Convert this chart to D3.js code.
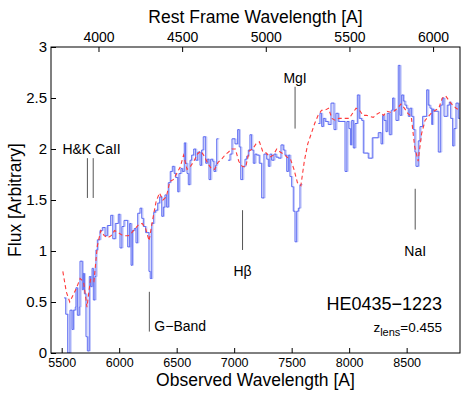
<!DOCTYPE html>
<html>
<head>
<meta charset="utf-8">
<script src="https://cdn.jsdelivr.net/npm/d3@7"></script>
<style>
body { margin: 0; background: #fff; }
svg text { font-family: "Liberation Sans", Arial, Helvetica, sans-serif; fill: #000; }
</style>
</head>
<body>
<div id="chart"></div>
<script>
// lens redshift, used for the rest frame axis on top
var zLens = 0.455;

var obsTicks = [5500, 6000, 6500, 7000, 7500, 8000, 8500];
var restTicks = [4000, 4500, 5000, 5500, 6000];
var fluxTicks = [0, 0.5, 1, 1.5, 2, 2.5, 3];

// observed spectrum, binned (bin start wavelengths, last one closes the last bin)
var blueWave = [5520, 5535, 5552, 5572, 5590, 5601, 5618, 5624, 5636, 5653, 5659, 5679, 5688, 5697, 5711, 5723,
    5740, 5752, 5764, 5775, 5790, 5798, 5810, 5833, 5853, 5877, 5897, 5926, 5944, 5966, 5992, 6007, 6024, 6042,
    6074, 6091, 6103, 6114, 6131, 6146, 6161, 6181, 6196, 6210, 6230, 6259, 6270, 6283, 6300, 6317, 6335, 6352,
    6370, 6384, 6398, 6413, 6427, 6444, 6462, 6479, 6491, 6509, 6520, 6537, 6549, 6566, 6578, 6590, 6601, 6616,
    6630, 6648, 6665, 6683, 6703, 6717, 6731, 6752, 6766, 6781, 6796, 6813, 6824, 6839, 6848, 6862, 6946, 6964,
    6981, 7007, 7030, 7044, 7057, 7074, 7094, 7109, 7123, 7137, 7152, 7166, 7181, 7196, 7218, 7239, 7259, 7283,
    7297, 7311, 7326, 7346, 7364, 7384, 7407, 7427, 7442, 7457, 7471, 7485, 7500, 7514, 7529, 7544, 7558, 7572,
    7587, 7731, 7746, 7761, 7775, 7792, 7818, 7842, 7868, 7885, 7905, 7964, 7981, 7998, 8011, 8022, 8036, 8051,
    8071, 8088, 8109, 8123, 8166, 8201, 8253, 8277, 8291, 8303, 8320, 8331, 8349, 8366, 8378, 8390, 8407, 8427,
    8442, 8457, 8471, 8485, 8500, 8514, 8529, 8544, 8558, 8572, 8581, 8601, 8616, 8639, 8674, 8688, 8703, 8718,
    8726, 8737, 8775, 8796, 8810, 8825, 8853, 8871, 8883, 8900, 8912, 8929, 8949, 8964];
var blueFlux = [0.54, 0.38, 0.0, 0.42, 0.23, 0.42, 0.45, 0.64, 0.37, 0.45, 0.9, 0.62, 0.78, 0.58, 0.16, 0.02,
    0.75, 0.65, 0.83, 0.52, 0.75, 1.01, 1.11, 1.2, 1.23, 1.15, 1.25, 1.35, 1.12, 1.27, 1.36, 1.03, 1.24, 1.3,
    1.04, 1.27, 0.86, 1.2, 1.22, 1.08, 1.37, 1.42, 1.32, 1.24, 1.18, 0.8, 0.73, 1.27, 1.38, 1.4, 1.47, 1.53,
    1.34, 1.43, 1.55, 1.43, 1.67, 1.78, 1.83, 1.76, 1.72, 1.58, 1.76, 1.81, 1.78, 2.06, 1.86, 1.76, 1.65, 1.89,
    1.94, 2.0, 1.89, 1.97, 1.84, 1.99, 2.12, 1.86, 1.9, 1.7, 1.9, 1.88, 1.78, 1.84, 2.1, null, 1.89, 1.95,
    2.1, 2.05, 2.19, 2.02, 1.7, 1.83, 1.9, 1.93, 1.99, 2.14, 1.99, 1.86, 1.95, 1.94, 1.86, 1.52, 1.95, 1.9,
    1.83, 1.95, 1.89, 1.95, 1.92, 1.91, 2.04, 1.99, 1.94, 1.78, 1.94, 1.73, 1.63, 1.39, 1.09, 1.39, 1.42, 1.65,
    null, 2.25, 2.35, 2.22, 2.3, 2.27, 2.24, 2.45, 2.19, 2.35, 2.27, 1.78, 2.27, 2.2, 2.04, 2.28, 2.01, 2.25,
    2.53, 2.3, 2.28, 1.96, 1.91, 2.11, 2.16, 2.05, 2.33, 2.28, 2.17, 2.35, 2.14, 2.38, 2.5, 2.38, 2.28, 2.82,
    2.33, 2.53, 2.47, 2.43, 2.4, 2.32, 2.4, 2.32, 2.19, 1.97, 1.83, 2.08, 2.22, 2.32, 2.58, 2.43, 2.4, 2.24,
    2.39, 2.37, 1.97, 2.43, 2.5, 2.32, 2.43, 2.46, 2.3, 2.03, 2.2, 2.45, 2.3, null];

// template spectrum (red dashed)
var redWave = [5510, 5540, 5570, 5600, 5630, 5660, 5690, 5720, 5750, 5780,
    5810, 5840, 5870, 5900, 5930, 5960, 5990, 6020, 6050, 6080,
    6110, 6140, 6170, 6200, 6230, 6260, 6290, 6320, 6350, 6380,
    6410, 6440, 6470, 6500, 6530, 6560, 6590, 6620, 6650, 6680,
    6710, 6740, 6770, 6800, 6830, 6860, 6890, 6920, 6950, 6980,
    7010, 7040, 7070, 7100, 7130, 7160, 7190, 7220, 7250, 7280,
    7310, 7340, 7370, 7400, 7430, 7460, 7490, 7520, 7550, 7580,
    7610, 7640, 7670, 7700, 7730, 7760, 7790, 7820, 7850, 7880,
    7910, 7940, 7970, 8000, 8030, 8060, 8090, 8120, 8150, 8180,
    8210, 8240, 8270, 8300, 8330, 8360, 8390, 8420, 8450, 8480,
    8510, 8540, 8570, 8600, 8630, 8660, 8690, 8720, 8750, 8780,
    8810, 8840, 8870, 8900, 8930, 8960];
var redFlux = [0.8, 0.6, 0.5, 0.57, 0.64, 0.73, 0.7, 0.45, 0.72, 0.7,
    1.05, 1.2, 1.15, 1.13, 1.15, 1.2, 1.18, 1.16, 1.15, 1.15,
    1.18, 1.22, 1.26, 1.27, 1.22, 1.1, 1.3, 1.48, 1.57, 1.5,
    1.53, 1.68, 1.7, 1.76, 1.82, 1.94, 1.8, 1.83, 1.88, 1.95,
    1.98, 1.93, 1.86, 1.81, 1.8, 1.87, 1.9, 1.94, 1.97, 2.0,
    2.0, 1.88, 1.83, 1.82, 1.98, 2.0, 2.05, 2.07, 1.97, 1.96,
    1.92, 1.94, 2.0, 1.97, 1.95, 1.92, 1.9, 1.8, 1.67, 1.64,
    1.88, 2.05, 2.15, 2.25, 2.33, 2.38, 2.38, 2.4, 2.3, 2.28,
    2.3, 2.3, 2.3, 2.3, 2.35, 2.4, 2.38, 2.33, 2.33, 2.32,
    2.31, 2.34, 2.36, 2.33, 2.37, 2.36, 2.37, 2.4, 2.44, 2.4,
    2.35, 2.32, 2.02, 1.88, 2.15, 2.28, 2.32, 2.36, 2.38, 2.4,
    2.5, 2.52, 2.47, 2.43, 2.4, 2.38];

// absorption features: rest wavelength and flux span of the marker line
var featRest = [3933.7, 3968.5, 4304, 4861, 5175, 5893];
var featLow = [1.52, 1.52, 0.21, 1.01, 2.2, 1.21];
var featHigh = [1.91, 1.91, 0.6, 1.4, 2.61, 1.61];
var labelText = ["H&K CaII", "G\u2212Band", "H\u03b2", "MgI", "NaI"];
var labelFeat = [0, 2, 3, 4, 5];

var W = 463, H = 393;
var margin = { top: 47, right: 3, bottom: 40, left: 51 };
var iw = W - margin.left - margin.right,
    ih = H - margin.top - margin.bottom;

var x = d3.scaleLinear().domain([5407, 8964]).range([0, iw]);
var xRest = d3.scaleLinear().domain([5407 / (1 + zLens), 8964 / (1 + zLens)]).range([0, iw]);
var y = d3.scaleLinear().domain([0, 3]).range([ih, 0]);

var svg = d3.select("#chart").append("svg")
    .attr("width", W)
    .attr("height", H);

var g = svg.append("g")
    .attr("transform", "translate(" + margin.left + "," + margin.top + ")");

g.append("defs").append("clipPath")
    .attr("id", "clip")
    .append("rect")
    .attr("width", iw)
    .attr("height", ih);

// blue step line, broken where the spectrum has gaps
var bluePts = [];
for (var i = 0; i < blueFlux.length; i++) {
    if (blueFlux[i] == null) { bluePts.push(null); continue; }
    bluePts.push({ w: blueWave[i], f: blueFlux[i] });
    if (blueFlux[i + 1] == null) bluePts.push({ w: blueWave[i + 1], f: blueFlux[i] });
}

var stepLine = d3.line()
    .defined(function(d) { return d != null; })
    .curve(d3.curveStepAfter)
    .x(function(d) { return x(d.w); })
    .y(function(d) { return y(d.f); });

var plot = g.append("g").attr("clip-path", "url(#clip)");

plot.append("path")
    .attr("d", stepLine(bluePts))
    .attr("transform", "translate(1.2,0)")
    .style("fill", "none")
    .style("stroke", "#c3c9fa")
    .style("stroke-width", 1);

plot.append("path")
    .attr("d", stepLine(bluePts))
    .style("fill", "none")
    .style("stroke", "#4f5ff0")
    .style("stroke-width", 0.9);

var redPts = redWave.map(function(w, i) { return { w: w, f: redFlux[i] }; });
var smoothLine = d3.line()
    .x(function(d) { return x(d.w); })
    .y(function(d) { return y(d.f); });

plot.append("path")
    .attr("d", smoothLine(redPts))
    .style("fill", "none")
    .style("stroke", "#ff3a3a")
    .style("stroke-width", 1.1)
    .style("stroke-dasharray", "4,3");

// feature markers
var obsW = function(rest) { return rest * (1 + zLens); };
g.selectAll("line.feat")
    .data(featRest)
    .enter().append("line")
    .attr("class", "feat")
    .attr("x1", function(d) { return x(obsW(d)); })
    .attr("x2", function(d) { return x(obsW(d)); })
    .attr("y1", function(d, i) { return y(featLow[i]); })
    .attr("y2", function(d, i) { return y(featHigh[i]); })
    .style("stroke", "#555")
    .style("stroke-width", 1);

g.selectAll("text.feat")
    .data(labelText)
    .enter().append("text")
    .attr("class", "feat")
    .style("font-size", "14px")
    .attr("text-anchor", function(d, i) { return (i === 0 || i === 1) ? "start" : "middle"; })
    .attr("x", function(d, i) {
        var fx = x(obsW(featRest[labelFeat[i]]));
        if (i === 0) return fx - 25;
        if (i === 1) return fx + 5;
        return fx;
    })
    .attr("y", function(d, i) {
        var k = labelFeat[i];
        if (i === 0) return y(featHigh[k]) - 4;
        if (i === 1) return y(featLow[k]) - 1;
        if (i === 3) return y(featHigh[k]) - 4;
        return y(featLow[k]) + 26;
    })
    .text(function(d) { return d; });

// object name and lens redshift
g.append("text")
    .attr("x", iw - 18)
    .attr("y", 263)
    .attr("text-anchor", "end")
    .style("font-size", "18px")
    .text("HE0435\u22121223");

var zt = g.append("text")
    .attr("x", iw - 18)
    .attr("y", 285)
    .attr("text-anchor", "end")
    .style("font-size", "13.5px");
zt.append("tspan").text("z");
zt.append("tspan").attr("dy", 4).style("font-size", "11px").text("lens");
zt.append("tspan").attr("dy", -4).text("=0.455");

// frame
g.append("rect")
    .attr("width", iw)
    .attr("height", ih)
    .style("fill", "none")
    .style("stroke", "#000")
    .style("stroke-width", 1);

var fmt = d3.format("");

var xAxis = g.append("g")
    .attr("transform", "translate(0," + ih + ")")
    .call(d3.axisBottom(x).tickValues(obsTicks).tickSizeInner(-5).tickSizeOuter(0).tickPadding(5).tickFormat(fmt));
var topAxis = g.append("g")
    .call(d3.axisTop(xRest).tickValues(restTicks).tickSizeInner(-5).tickSizeOuter(0).tickPadding(5).tickFormat(fmt));
var yAxis = g.append("g")
    .call(d3.axisLeft(y).tickValues(fluxTicks).tickSizeInner(-5).tickSizeOuter(0).tickPadding(4).tickFormat(fmt));

[xAxis, topAxis, yAxis].forEach(function(a) {
    a.select(".domain").remove();
    a.selectAll(".tick line").style("stroke", "#000");
    a.selectAll("text").style("font-family", null).style("fill", "#000");
});
xAxis.selectAll("text").style("font-size", "12.5px");
topAxis.selectAll("text").style("font-size", "14px");
yAxis.selectAll("text").style("font-size", "15px");

// axis titles
svg.append("text")
    .attr("x", margin.left + iw / 2)
    .attr("y", 386)
    .attr("text-anchor", "middle")
    .style("font-size", "17.5px")
    .text("Observed Wavelength [A]");

svg.append("text")
    .attr("x", margin.left + iw / 2)
    .attr("y", 23)
    .attr("text-anchor", "middle")
    .style("font-size", "17.5px")
    .text("Rest Frame Wavelength [A]");

svg.append("text")
    .attr("transform", "translate(21," + (margin.top + ih / 2) + ") rotate(-90)")
    .attr("text-anchor", "middle")
    .style("font-size", "17.5px")
    .text("Flux [Arbitrary]");
</script>
</body>
</html>
